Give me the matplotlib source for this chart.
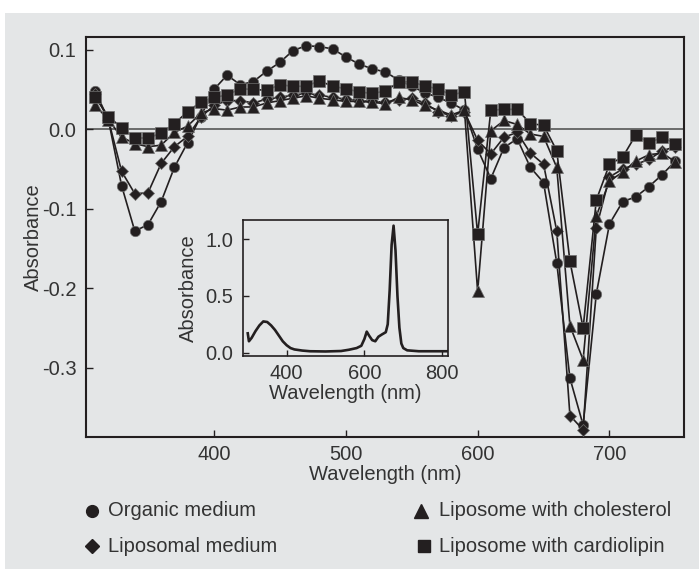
import matplotlib
matplotlib.use('Agg')
import matplotlib.pyplot as plt
from matplotlib.lines import Line2D
from matplotlib.patches import Rectangle

plt.rcParams['font.family'] = ['Liberation Sans', 'DejaVu Sans']

# wavelength grid of the difference spectra (nm)
wavelength = [310, 320, 330, 340, 350, 360, 370, 380, 390, 400,
              410, 420, 430, 440, 450, 460, 470, 480, 490, 500,
              510, 520, 530, 540, 550, 560, 570, 580, 590, 600,
              610, 620, 630, 640, 650, 660, 670, 680, 690, 700,
              710, 720, 730, 740, 750]

organic_medium = [0.048, 0.012, -0.071, -0.128, -0.120, -0.091, -0.048, -0.017, 0.016, 0.050,
                  0.068, 0.056, 0.060, 0.073, 0.084, 0.099, 0.105, 0.104, 0.101, 0.091,
                  0.082, 0.076, 0.072, 0.062, 0.054, 0.046, 0.040, 0.033, 0.024, -0.025,
                  -0.062, -0.023, -0.012, -0.048, -0.067, -0.168, -0.313, -0.372, -0.207, -0.119,
                  -0.091, -0.085, -0.072, -0.057, -0.040]

liposomal_medium = [0.044, 0.012, -0.053, -0.081, -0.080, -0.043, -0.022, -0.009, 0.015, 0.030,
                    0.036, 0.036, 0.033, 0.038, 0.040, 0.043, 0.045, 0.043, 0.040, 0.038,
                    0.036, 0.035, 0.034, 0.037, 0.039, 0.033, 0.022, 0.017, 0.022, -0.014,
                    -0.031, -0.010, -0.004, -0.030, -0.044, -0.128, -0.360, -0.378, -0.124, -0.060,
                    -0.050, -0.044, -0.038, -0.027, -0.022]

lipo_cholesterol = [0.030, 0.012, -0.010, -0.018, -0.022, -0.020, -0.004, 0.004, 0.020, 0.026,
                    0.024, 0.028, 0.028, 0.033, 0.036, 0.039, 0.042, 0.039, 0.037, 0.035,
                    0.035, 0.034, 0.032, 0.040, 0.037, 0.030, 0.024, 0.018, 0.024, -0.204,
                    -0.002, 0.011, 0.006, -0.006, -0.009, -0.048, -0.247, -0.290, -0.109, -0.065,
                    -0.054, -0.040, -0.032, -0.030, -0.041]

lipo_cardiolipin = [0.040, 0.016, 0.002, -0.011, -0.011, -0.005, 0.007, 0.022, 0.034, 0.040,
                    0.043, 0.051, 0.050, 0.049, 0.056, 0.054, 0.054, 0.061, 0.054, 0.051,
                    0.047, 0.045, 0.048, 0.059, 0.060, 0.054, 0.051, 0.043, 0.047, -0.132,
                    0.024, 0.025, 0.025, 0.007, 0.005, -0.027, -0.166, -0.250, -0.089, -0.044,
                    -0.035, -0.007, -0.017, -0.010, -0.018]

series_names = ['Organic medium', 'Liposomal medium',
                'Liposome with cholesterol', 'Liposome with cardiolipin']

main_xticks = [400, 500, 600, 700]
main_yticks = [-0.3, -0.2, -0.1, 0.0, 0.1]
main_yticklabels = ['-0.3', '-0.2', '-0.1', '0.0', '0.1']

# inset: absorption spectrum in organic medium
inset_wl = [300, 303, 310, 320, 330, 340, 350, 360, 370, 380,
            390, 400, 410, 420, 440, 460, 500, 540, 560, 580,
            592, 600, 606, 612, 620, 628, 636, 645, 655, 660,
            665, 670, 675, 680, 685, 690, 695, 700, 710, 740,
            800, 815]
inset_abs = [0.17, 0.10, 0.13, 0.19, 0.24, 0.275, 0.27, 0.24, 0.20, 0.15,
             0.10, 0.065, 0.04, 0.028, 0.018, 0.012, 0.010, 0.014, 0.025, 0.04,
             0.06, 0.12, 0.185, 0.15, 0.11, 0.10, 0.14, 0.16, 0.18, 0.25,
             0.55, 0.95, 1.12, 0.90, 0.50, 0.22, 0.08, 0.04, 0.02, 0.012,
             0.012, 0.012]
inset_xticks = [400, 600, 800]
inset_yticks = [0.0, 0.5, 1.0]
inset_yticklabels = ['0.0', '0.5', '1.0']

bg = '#e4e6e7'
ink = '#231f20'
txt = '#333333'
fs = 14.5
W, H = 699, 569

fig = plt.figure(figsize=(6.99, 5.69), dpi=100)
fig.patch.set_facecolor('white')
fig.patches.append(Rectangle((5 / W, 0), 1 - 5 / W, 1 - 13 / H,
                             transform=fig.transFigure, facecolor=bg,
                             edgecolor='none', zorder=-10))

# main axes
ax = fig.add_axes([86 / W, 1 - 437 / H, 598 / W, 400 / H])
ax.set_facecolor(bg)
ax.axhline(0, color='#4a4a4a', lw=1.1, zorder=1)

styles = [('o', 7.5), ('D', 5.8), ('^', 8.5), ('s', 8.0)]
order = [2, 1, 0, 3]
data = [organic_medium, liposomal_medium, lipo_cholesterol, lipo_cardiolipin]
for i in order:
    m, ms = styles[i]
    ax.plot(wavelength, data[i], marker=m, ms=ms, color=ink, lw=1.2,
            mec='#6f6f6f', mew=0.5, zorder=3 + i)

ax.set_xlim(303, 756.5)
ax.set_ylim(-0.387, 0.116)
ax.set_xticks(main_xticks)
ax.set_yticks(main_yticks)
ax.set_yticklabels(main_yticklabels)
ax.tick_params(direction='in', length=5, width=1, color=ink,
               labelsize=fs, labelcolor=txt)
ax.tick_params(axis='y', pad=7)
ax.tick_params(axis='x', pad=6)
for s in ax.spines.values():
    s.set_linewidth(1.5)
    s.set_color(ink)
ax.set_xlabel('Wavelength (nm)', fontsize=fs, color=txt)
ax.set_ylabel('Absorbance', fontsize=fs, color=txt)
ax.xaxis.set_label_coords(0.5, -0.07)
ax.yaxis.set_label_coords(-0.072, 0.5)

# inset
ins = fig.add_axes([242.7 / W, 1 - 356 / H, 205.3 / W, 136 / H])
ins.set_facecolor(bg)
ins.plot(inset_wl, inset_abs, color=ink, lw=1.9)
ins.set_xlim(287, 815)
ins.set_ylim(-0.03, 1.17)
ins.set_xticks(inset_xticks)
ins.set_yticks(inset_yticks)
ins.set_yticklabels(inset_yticklabels)
ins.tick_params(direction='in', length=4.5, width=1, color=ink,
                labelsize=fs, labelcolor=txt)
ins.tick_params(axis='y', pad=7)
ins.tick_params(axis='x', pad=6)
for s in ins.spines.values():
    s.set_linewidth(1.2)
    s.set_color(ink)
ins.set_xlabel('Wavelength (nm)', fontsize=fs, color=txt)
ins.set_ylabel('Absorbance', fontsize=fs, color=txt)
ins.xaxis.set_label_coords(0.5, -0.205)
ins.yaxis.set_label_coords(-0.22, 0.5)

# legend drawn below the axes
legend_pos = [(92, 108, 511), (92, 108, 546), (421, 439, 511), (424, 439, 546)]
for i, (mx, tx, y) in enumerate(legend_pos):
    m, ms = styles[i]
    fig.add_artist(Line2D([mx / W], [1 - y / H], marker=m, ms=ms + 1,
                          color=ink, ls='none', transform=fig.transFigure))
    fig.text(tx / W, 1 - y / H, series_names[i], fontsize=fs, color=txt,
             ha='left', va='center')

fig.savefig('out.png', dpi=100, facecolor=fig.get_facecolor())
